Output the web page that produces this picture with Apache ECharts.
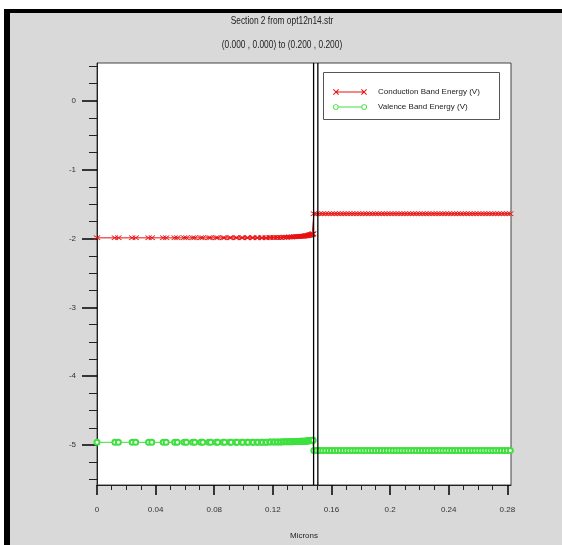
<!DOCTYPE html>
<html lang="en">

<head>
    <meta charset="UTF-8">
    <title>Section 2 from opt12n14.str</title>
    <style>
        body { margin: 0; background: #fff; }
    </style>
</head>

<body>
    <div id="main" style="width:562px;height:545px;"></div>
    <script src="https://cdn.jsdelivr.net/npm/echarts@6/dist/echarts.min.js"></script>
    <script>
        // x positions (microns) of the samples, left layer then right layer
        var xLeft = [
            0.0000,
            0.0122, 0.0146, 0.0240, 0.0264, 0.0352, 0.0374, 0.0452, 0.0472,
            0.0530, 0.0548, 0.0594, 0.0610, 0.0652, 0.0667, 0.0708, 0.0722,
            0.0762, 0.0775, 0.0812, 0.0824, 0.0860, 0.0871, 0.0905, 0.0915,
            0.0947, 0.0956, 0.0986, 0.0995, 0.1023, 0.1031, 0.1058, 0.1066,
            0.1091, 0.1098, 0.1122, 0.1129, 0.1151, 0.1157, 0.1178, 0.1184,
            0.1204, 0.1210, 0.1228, 0.1234, 0.1251, 0.1256, 0.1272, 0.1277,
            0.1292, 0.1297, 0.1311, 0.1315, 0.1328, 0.1332, 0.1344, 0.1348,
            0.1359, 0.1363, 0.1373, 0.1377, 0.1386, 0.1390, 0.1398, 0.1402,
            0.1409, 0.1413, 0.1419, 0.1423, 0.1429, 0.1432, 0.1438, 0.1441,
            0.1446, 0.1449, 0.1454, 0.1457, 0.1461, 0.1464, 0.1468, 0.1471,
            0.1475
        ];
        var condLeft = [
            -1.99,
            -1.99, -1.99, -1.99, -1.99, -1.99, -1.99, -1.99, -1.99,
            -1.99, -1.99, -1.99, -1.99, -1.99, -1.99, -1.99, -1.99,
            -1.99, -1.99, -1.99, -1.99, -1.99, -1.99, -1.99, -1.99,
            -1.99, -1.99, -1.99, -1.99, -1.99, -1.99, -1.99, -1.99,
            -1.99, -1.99, -1.988, -1.988, -1.987, -1.987, -1.986, -1.986,
            -1.985, -1.985, -1.984, -1.984, -1.983, -1.983, -1.982, -1.982,
            -1.981, -1.980, -1.979, -1.978, -1.977, -1.976, -1.975, -1.974,
            -1.973, -1.972, -1.971, -1.970, -1.969, -1.968, -1.967, -1.966,
            -1.965, -1.964, -1.962, -1.961, -1.959, -1.958, -1.956, -1.954,
            -1.952, -1.950, -1.948, -1.946, -1.944, -1.941, -1.938, -1.935,
            -1.93
        ];
        var valLeft = [
            -4.96,
            -4.96, -4.96, -4.96, -4.96, -4.96, -4.96, -4.96, -4.96,
            -4.96, -4.96, -4.96, -4.96, -4.96, -4.96, -4.96, -4.96,
            -4.96, -4.96, -4.96, -4.96, -4.96, -4.96, -4.96, -4.96,
            -4.96, -4.96, -4.96, -4.96, -4.96, -4.96, -4.96, -4.96,
            -4.96, -4.96, -4.96, -4.96, -4.958, -4.958, -4.957, -4.957,
            -4.956, -4.956, -4.955, -4.955, -4.954, -4.954, -4.953, -4.953,
            -4.952, -4.952, -4.951, -4.951, -4.950, -4.950, -4.949, -4.949,
            -4.948, -4.948, -4.947, -4.947, -4.946, -4.946, -4.945, -4.945,
            -4.944, -4.944, -4.943, -4.943, -4.942, -4.941, -4.940, -4.939,
            -4.938, -4.937, -4.936, -4.935, -4.934, -4.933, -4.932, -4.931,
            -4.93
        ];
        var xRight = [
            0.148, 0.150, 0.152, 0.154, 0.156, 0.158, 0.160, 0.162, 0.164, 0.166,
            0.168, 0.170, 0.172, 0.174, 0.176, 0.178, 0.180, 0.182, 0.184, 0.186,
            0.188, 0.190, 0.192, 0.194, 0.196, 0.198, 0.200, 0.202, 0.204, 0.206,
            0.208, 0.210, 0.212, 0.214, 0.216, 0.218, 0.220, 0.222, 0.224, 0.226,
            0.228, 0.230, 0.232, 0.234, 0.236, 0.238, 0.240, 0.242, 0.244, 0.246,
            0.248, 0.250, 0.252, 0.254, 0.256, 0.258, 0.260, 0.262, 0.264, 0.266,
            0.268, 0.270, 0.272, 0.274, 0.276, 0.278, 0.280, 0.282
        ];
        var condRight = [
            -1.64, -1.64, -1.64, -1.64, -1.64, -1.64, -1.64, -1.64, -1.64, -1.64,
            -1.64, -1.64, -1.64, -1.64, -1.64, -1.64, -1.64, -1.64, -1.64, -1.64,
            -1.64, -1.64, -1.64, -1.64, -1.64, -1.64, -1.64, -1.64, -1.64, -1.64,
            -1.64, -1.64, -1.64, -1.64, -1.64, -1.64, -1.64, -1.64, -1.64, -1.64,
            -1.64, -1.64, -1.64, -1.64, -1.64, -1.64, -1.64, -1.64, -1.64, -1.64,
            -1.64, -1.64, -1.64, -1.64, -1.64, -1.64, -1.64, -1.64, -1.64, -1.64,
            -1.64, -1.64, -1.64, -1.64, -1.64, -1.64, -1.64, -1.64
        ];
        var valRight = [
            -5.08, -5.08, -5.08, -5.08, -5.08, -5.08, -5.08, -5.08, -5.08, -5.08,
            -5.08, -5.08, -5.08, -5.08, -5.08, -5.08, -5.08, -5.08, -5.08, -5.08,
            -5.08, -5.08, -5.08, -5.08, -5.08, -5.08, -5.08, -5.08, -5.08, -5.08,
            -5.08, -5.08, -5.08, -5.08, -5.08, -5.08, -5.08, -5.08, -5.08, -5.08,
            -5.08, -5.08, -5.08, -5.08, -5.08, -5.08, -5.08, -5.08, -5.08, -5.08,
            -5.08, -5.08, -5.08, -5.08, -5.08, -5.08, -5.08, -5.08, -5.08, -5.08,
            -5.08, -5.08, -5.08, -5.08, -5.08, -5.08, -5.08, -5.08
        ];
        // material interfaces (double vertical line over the full y range)
        var interfaceX = [0.1478, 0.1507];
        var yRange = [-5.58, 0.55];

        var xMajor = [0, 0.04, 0.08, 0.12, 0.16, 0.2, 0.24, 0.28];
        var xMinor = [0.01, 0.02, 0.03, 0.05, 0.06, 0.07, 0.09, 0.1, 0.11, 0.13, 0.14, 0.15,
            0.17, 0.18, 0.19, 0.21, 0.22, 0.23, 0.25, 0.26, 0.27];
        var yMajor = [-5, -4, -3, -2, -1, 0];
        var yMinor = [-5.5, -5.25, -4.75, -4.5, -4.25, -3.75, -3.5, -3.25, -2.75, -2.5, -2.25,
            -1.75, -1.5, -1.25, -0.75, -0.5, -0.25, 0.25, 0.5];

        var titleText = 'Section 2 from opt12n14.str';
        var subText = '(0.000 , 0.000) to (0.200 , 0.200)';
        var condName = 'Conduction Band Energy (V)';
        var valName = 'Valence Band Energy (V)';
        var red = '#e81010';
        var green = '#3ee03e';
        var font = "'Liberation Sans', Arial, sans-serif";

        function pairs(xs, ys) {
            var out = [];
            for (var i = 0; i < xs.length; i++) out.push([xs[i], ys[i]]);
            return out;
        }
        var condData = pairs(xLeft, condLeft).concat(pairs(xRight, condRight));
        var valData = pairs(xLeft, valLeft).concat(pairs(xRight, valRight));

        var crossPath = 'path://M0,1L1,0L5,4L9,0L10,1L6,5L10,9L9,10L5,6L1,10L0,9L4,5Z';
        var condIcon = 'path://M0,1.7L0.7,1L3,3.3L5.3,1L6,1.7L3.7,4L6,6.3L5.3,7L3,4.7L0.7,7L0,6.3L2.3,4Z' +
            'M28,1.7L28.7,1L31,3.3L33.3,1L34,1.7L31.7,4L34,6.3L33.3,7L31,4.7L28.7,7L28,6.3L30.3,4Z' +
            'M3,3.6L31,3.6L31,4.4L3,4.4Z';
        var valIcon = 'path://M0.2,4A2.8,2.8,0,1,0,5.8,4A2.8,2.8,0,1,0,0.2,4Z' +
            'M1.1,4A1.9,1.9,0,1,1,4.9,4A1.9,1.9,0,1,1,1.1,4Z' +
            'M28.2,4A2.8,2.8,0,1,0,33.8,4A2.8,2.8,0,1,0,28.2,4Z' +
            'M29.1,4A1.9,1.9,0,1,1,32.9,4A1.9,1.9,0,1,1,29.1,4Z' +
            'M5.8,3.6L28.2,3.6L28.2,4.4L5.8,4.4Z';

        var myChart = echarts.init(document.getElementById('main'));

        var interfaceSeries = interfaceX.map(function (v) {
            return {
                name: 'interface',
                type: 'line',
                data: [[v, yRange[0]], [v, yRange[1]]],
                symbol: 'none',
                silent: true,
                z: 4,
                lineStyle: { color: '#000', width: 1.3 },
                emphasis: { disabled: true }
            };
        });

        var option = {
            animation: false,
            textStyle: { fontFamily: font },
            graphic: [
                // window frame: grey panel with black top/left edge
                { type: 'rect', z: -100, silent: true, shape: { x: 4, y: 9, width: 558, height: 536 }, style: { fill: '#000' } },
                { type: 'rect', z: -99, silent: true, shape: { x: 10, y: 13, width: 552, height: 532 }, style: { fill: '#d9d9d9' } },
                // title lines, squeezed to look like the narrow plot font
                {
                    type: 'text', x: 282, y: 21, scaleX: 0.76, silent: true,
                    style: { text: titleText, font: '11px ' + font, fill: '#222', textAlign: 'center', textVerticalAlign: 'middle' }
                },
                {
                    type: 'text', x: 282, y: 45, scaleX: 0.76, silent: true,
                    style: { text: subText, font: '11px ' + font, fill: '#222', textAlign: 'center', textVerticalAlign: 'middle' }
                },
                // legend box
                { type: 'rect', z: 3, silent: true, shape: { x: 323.5, y: 72.5, width: 176, height: 47 }, style: { fill: '#fff', stroke: '#555', lineWidth: 1 } }
            ],
            legend: {
                orient: 'vertical',
                left: 333,
                top: 88,
                padding: 0,
                itemWidth: 34,
                itemHeight: 6,
                itemGap: 7,
                z: 5,
                textStyle: { fontFamily: font, fontSize: 8, color: '#222', padding: [0, 0, 0, 6] },
                data: [
                    { name: condName, icon: condIcon, itemStyle: { color: red, borderWidth: 0 } },
                    { name: valName, icon: valIcon, itemStyle: { color: green, borderWidth: 0 } }
                ]
            },
            grid: {
                left: 97,
                top: 63,
                right: 51,
                bottom: 59,
                show: true,
                backgroundColor: '#fff',
                borderColor: '#444',
                borderWidth: 1
            },
            xAxis: [
                {
                    type: 'value',
                    min: 0,
                    max: 0.2825,
                    name: 'Microns',
                    nameLocation: 'middle',
                    nameGap: 47,
                    nameTextStyle: { fontFamily: font, fontSize: 8, color: '#222' },
                    axisLine: { onZero: false, lineStyle: { color: '#222', width: 1 } },
                    splitLine: { show: false },
                    axisTick: { customValues: xMajor, length: 10, lineStyle: { color: '#000', width: 1.5 } },
                    axisLabel: { customValues: xMajor, margin: 21, fontSize: 8, color: '#333', fontFamily: font }
                },
                {
                    type: 'value',
                    min: 0,
                    max: 0.2825,
                    position: 'bottom',
                    axisLine: { show: false, onZero: false },
                    splitLine: { show: false },
                    axisTick: { customValues: xMinor, length: 5, lineStyle: { color: '#222', width: 1 } },
                    axisLabel: { show: false }
                }
            ],
            yAxis: [
                {
                    type: 'value',
                    min: -5.58,
                    max: 0.55,
                    position: 'left',
                    axisLine: { show: true, onZero: false, lineStyle: { color: '#222', width: 1 } },
                    splitLine: { show: false },
                    axisTick: { customValues: yMajor, length: 15, lineStyle: { color: '#000', width: 1.5 } },
                    axisLabel: { customValues: yMajor, margin: 21, fontSize: 8, color: '#333', fontFamily: font }
                },
                {
                    type: 'value',
                    min: -5.58,
                    max: 0.55,
                    position: 'left',
                    axisLine: { show: false, onZero: false },
                    splitLine: { show: false },
                    axisTick: { customValues: yMinor, length: 8, lineStyle: { color: '#222', width: 1 } },
                    axisLabel: { show: false }
                }
            ],
            series: [
                {
                    name: condName,
                    type: 'line',
                    data: condData,
                    showAllSymbol: true,
                    symbol: crossPath,
                    symbolSize: [7, 5],
                    itemStyle: { color: red },
                    lineStyle: { color: red, width: 1 },
                    emphasis: { disabled: true }
                },
                {
                    name: valName,
                    type: 'line',
                    data: valData,
                    showAllSymbol: true,
                    symbol: 'emptyCircle',
                    symbolSize: 5,
                    itemStyle: { color: green, borderWidth: 1 },
                    lineStyle: { color: green, width: 1 },
                    emphasis: { disabled: true }
                }
            ].concat(interfaceSeries)
        };

        myChart.setOption(option);
    </script>
</body>

</html>
